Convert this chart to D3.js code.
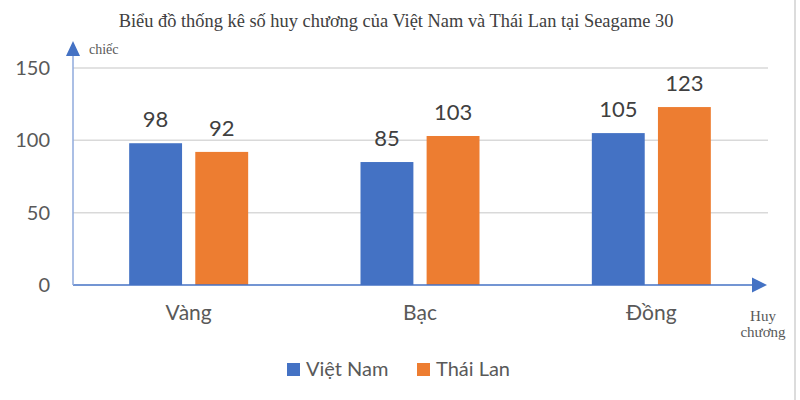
<!DOCTYPE html>
<html>
<head>
<meta charset="utf-8">
<script src="https://cdn.jsdelivr.net/npm/d3@7"></script>
<style>
  body { margin: 0; background: #fff; }
  .tick text { font-family: Lato, "Open Sans", sans-serif; fill: #595959; }
</style>
</head>
<body>
<div class="chart"></div>
<script>
var svgWidth = 800;
var svgHeight = 400;

// data
var categories = ["Vàng", "Bạc", "Đồng"];
var series = ["Việt Nam", "Thái Lan"];
var vietNam = [98, 85, 105];
var thaiLan = [92, 103, 123];
var yTicks = [0, 50, 100, 150];
var colors = ["#4472C4", "#ED7D31"];

var margin = { top: 68, right: 32, bottom: 115, left: 73 };
var width = svgWidth - margin.left - margin.right;
var height = svgHeight - margin.top - margin.bottom;

var svg = d3.select(".chart")
  .append("svg")
  .attr("width", svgWidth)
  .attr("height", svgHeight);

// right border of the picture
svg.append("line")
  .attr("x1", 795).attr("x2", 795)
  .attr("y1", 0).attr("y2", svgHeight)
  .attr("stroke", "#d0d0d0")
  .attr("stroke-width", 1.5);

svg.append("text")
  .attr("x", 396)
  .attr("y", 27)
  .attr("text-anchor", "middle")
  .attr("font-family", "'Liberation Serif', 'DejaVu Serif', serif")
  .attr("font-size", 18.4)
  .attr("fill", "#404040")
  .text("Biểu đồ thống kê số huy chương của Việt Nam và Thái Lan tại Seagame 30");

var chartGroup = svg.append("g")
  .attr("transform", `translate(${margin.left}, ${margin.top})`);

var x0 = d3.scaleBand()
  .domain(categories)
  .range([0, width - 1]);

var x1 = d3.scaleBand()
  .domain(series)
  .range([x0.bandwidth() / 2 - 59.5, x0.bandwidth() / 2 + 59.5])
  .paddingInner(0.2);

var y = d3.scaleLinear()
  .domain([0, 150])
  .range([height, 0]);

// gridlines
chartGroup.append("g")
  .selectAll("line")
  .data(yTicks.slice(1))
  .enter()
  .append("line")
  .attr("x1", 0)
  .attr("x2", width)
  .attr("y1", d => y(d))
  .attr("y2", d => y(d))
  .attr("stroke", "#d9d9d9")
  .attr("stroke-width", 1.5);

// y axis tick labels
var leftAxis = d3.axisLeft(y).tickValues(yTicks).tickSize(0).tickPadding(23);
chartGroup.append("g")
  .call(leftAxis)
  .call(g => g.select(".domain").remove())
  .selectAll("text")
  .attr("font-size", 20);

// bars
var rows = categories.map((c, i) => ({ cat: c, values: [vietNam[i], thaiLan[i]] }));

var groups = chartGroup.selectAll(".cat")
  .data(rows)
  .enter()
  .append("g")
  .attr("transform", d => `translate(${x0(d.cat)}, 0)`);

groups.selectAll("rect")
  .data(d => d.values.map((v, j) => ({ s: series[j], v: v, j: j })))
  .enter()
  .append("rect")
  .attr("x", d => x1(d.s))
  .attr("y", d => y(d.v))
  .attr("width", x1.bandwidth())
  .attr("height", d => height - y(d.v))
  .attr("fill", d => colors[d.j]);

groups.selectAll(".lbl")
  .data(d => d.values.map((v, j) => ({ s: series[j], v: v })))
  .enter()
  .append("text")
  .attr("x", d => x1(d.s) + x1.bandwidth() / 2)
  .attr("y", d => y(d.v) - 16)
  .attr("text-anchor", "middle")
  .attr("font-family", "Lato, 'Open Sans', sans-serif")
  .attr("font-size", 22)
  .attr("fill", "#404040")
  .text(d => d.v);

// x axis with arrow
var bottomAxis = d3.axisBottom(x0).tickSize(0).tickPadding(20);
chartGroup.append("g")
  .attr("transform", `translate(0, ${height})`)
  .call(bottomAxis)
  .call(g => g.select(".domain").remove())
  .selectAll("text")
  .attr("font-size", 21);

chartGroup.append("line")
  .attr("x1", 0).attr("x2", width - 14)
  .attr("y1", height).attr("y2", height)
  .attr("stroke", "#4472C4")
  .attr("stroke-width", 1.5);

chartGroup.append("path")
  .attr("d", `M${width - 16},${height - 7.5} L${width - 1},${height} L${width - 16},${height + 7.5} Z`)
  .attr("fill", "#4472C4");

// y axis with arrow
chartGroup.append("line")
  .attr("x1", 0).attr("x2", 0)
  .attr("y1", height).attr("y2", -14)
  .attr("stroke", "#8FAADC")
  .attr("stroke-width", 1.5);

chartGroup.append("path")
  .attr("d", "M-7,-12 L0,-27 L7,-12 Z")
  .attr("fill", "#4472C4");

// axis names
svg.append("text")
  .attr("x", 89)
  .attr("y", 54)
  .attr("font-family", "'Liberation Serif', serif")
  .attr("font-size", 14)
  .attr("fill", "#595959")
  .text("chiếc");

var axisName = svg.append("text")
  .attr("text-anchor", "middle")
  .attr("font-family", "'Liberation Serif', serif")
  .attr("font-size", 15)
  .attr("fill", "#595959");
axisName.append("tspan").attr("x", 763).attr("y", 321).text("Huy");
axisName.append("tspan").attr("x", 763).attr("y", 337).text("chương");

// legend
var legendX = [287, 417];
var legend = svg.selectAll(".legend")
  .data(series)
  .enter()
  .append("g")
  .attr("transform", (d, i) => `translate(${legendX[i]}, 363)`);

legend.append("rect")
  .attr("width", 13)
  .attr("height", 13)
  .attr("fill", (d, i) => colors[i]);

legend.append("text")
  .attr("x", 19)
  .attr("y", 13)
  .attr("font-family", "Lato, 'Open Sans', sans-serif")
  .attr("font-size", 20)
  .attr("fill", "#595959")
  .text(d => d);
</script>
</body>
</html>
